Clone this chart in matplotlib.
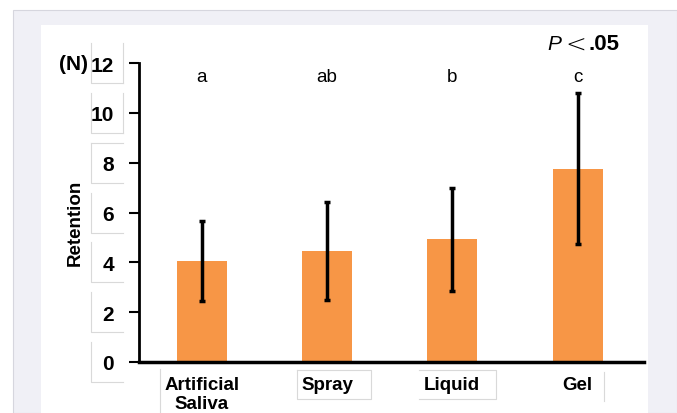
import matplotlib.pyplot as plt
from matplotlib.patches import Rectangle
from matplotlib.lines import Line2D

plt.rcParams["font.family"] = ["Liberation Sans", "DejaVu Sans"]

categories = ["Artificial\nSaliva", "Spray", "Liquid", "Gel"]
retention = [4.06, 4.46, 4.92, 7.75]
errors = [1.61, 1.98, 2.06, 3.03]
letters = ["a", "ab", "b", "c"]
yticks = [0, 2, 4, 6, 8, 10, 12]

W, H = 677, 414
fig = plt.figure(figsize=(W / 100, H / 100), dpi=100, facecolor="white")


def px_rect(x0, y0, x1, y1, **kw):
    # rectangle given in image pixels (origin top-left)
    r = Rectangle((x0 / W, 1 - y1 / H), (x1 - x0) / W, (y1 - y0) / H,
                  transform=fig.transFigure, **kw)
    fig.patches.append(r)
    return r


def px_line(xs, ys, **kw):
    ln = Line2D([v / W for v in xs], [1 - v / H for v in ys],
                transform=fig.transFigure, color="#d9d9d9", lw=0.8, zorder=0, **kw)
    fig.lines.append(ln)


# page background
px_rect(13, 11, 677, 414, facecolor="#f0f0f6", edgecolor="#d6d6de", lw=0.8, zorder=-2)
px_rect(41, 26, 648, 414, facecolor="white", edgecolor="none", zorder=-1)

ax = fig.add_axes([139 / W, 1 - 363 / H, (644 - 139) / W, (363 - 64) / H])
ax.set_facecolor("none")
ax.set_zorder(2)

x = list(range(len(categories)))
ax.bar(x, retention, width=0.4, color="#f79646", zorder=2)
ax.errorbar(x, retention, yerr=errors, fmt="none", ecolor="black",
            elinewidth=2.5, capsize=2, capthick=2.5, zorder=3)

ax.set_xlim(-0.5, 3.53)
ax.set_ylim(0, 12)
ax.set_yticks(yticks)
ax.set_xticks(x)
ax.set_xticklabels(categories, fontsize=13.5, fontweight="bold")
ax.set_yticklabels([str(v) for v in yticks], fontsize=15, fontweight="bold")
ax.tick_params(axis="y", length=7, width=1.5, pad=11)
ax.tick_params(axis="x", length=0, pad=10)
for s in ["top", "right"]:
    ax.spines[s].set_visible(False)
ax.spines["left"].set_linewidth(2)
ax.spines["bottom"].set_linewidth(2.5)

for xi, lab in zip(x, letters):
    ax.text(xi, 11.45, lab, ha="center", va="center", fontsize=13.5)

# faint text-box outlines left over around the labels
for v in yticks:
    yc = 363 - v * (363 - 64) / 12
    px_line([91, 91, 123], [yc - 20, yc + 20, yc + 20])
    if v >= 10:
        px_line([123, 123], [yc - 20, yc + 20])
    if v == 8:
        px_line([91, 123], [yc - 20, yc - 20])
px_line([160, 160], [370, 414])
px_line([297, 297, 371, 371, 297], [371, 400, 400, 371, 371])
px_line([419, 496, 496, 419], [371, 371, 400, 400])
px_line([604, 604], [373, 402])

fig.text(88 / W, 1 - 64 / H, "(N)", ha="right", va="center", fontsize=15, fontweight="bold")
fig.text(75 / W, 1 - 223 / H, "Retention", rotation=90, ha="center", va="center",
         fontsize=13.5, fontweight="bold")

fig.text(547 / W, 1 - 45 / H, "P", ha="left", va="center", fontsize=15, style="italic")
fig.text(576 / W, 1 - 46 / H, "<", ha="center", va="center", fontsize=18,
         family="DejaVu Sans", fontweight="light")
fig.text(589 / W, 1 - 45 / H, ".05", ha="left", va="center", fontsize=16, fontweight="bold")

fig.savefig("out.png", dpi=100)
